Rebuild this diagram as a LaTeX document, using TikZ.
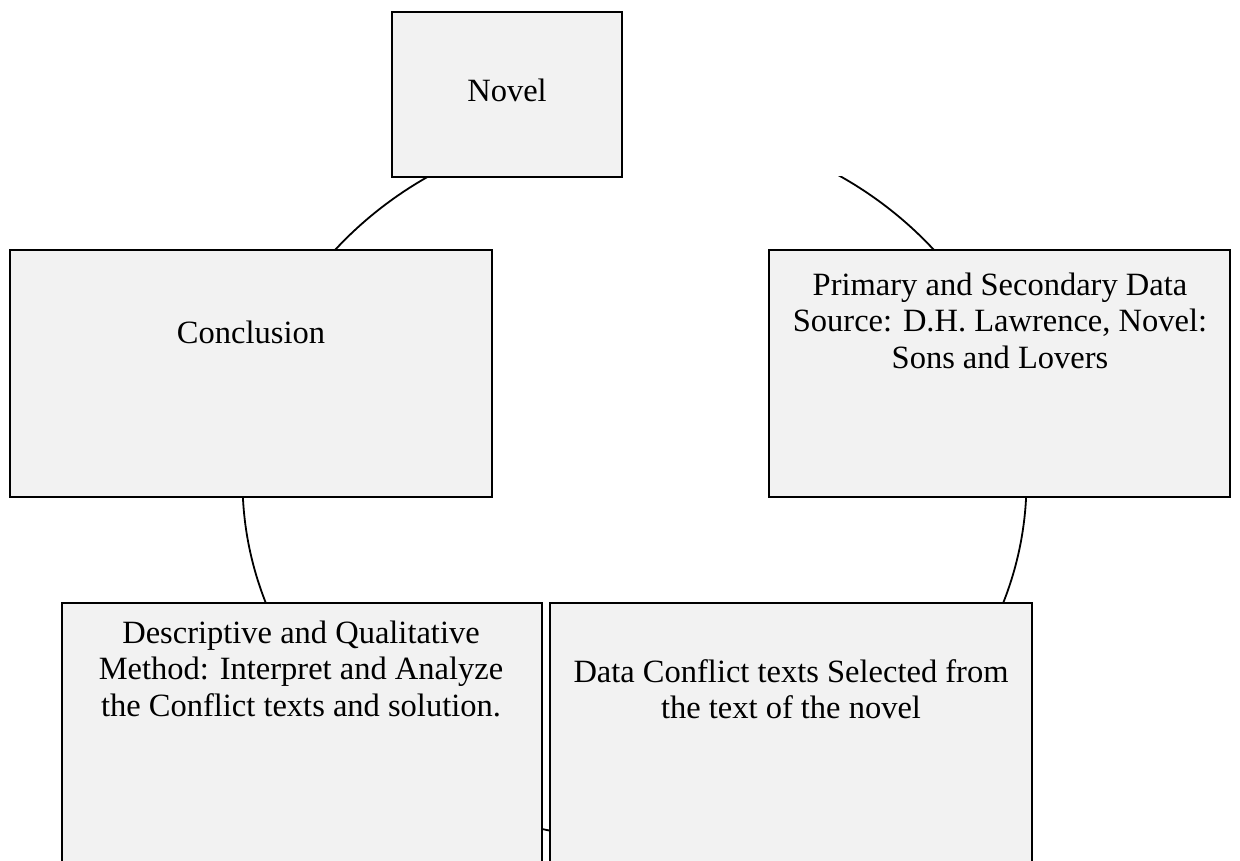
\documentclass[tikz,border=0pt]{standalone}
\usepackage{fontspec}
\setmainfont{Liberation Serif}
\definecolor{boxgray}{HTML}{F2F2F2}
\begin{document}
\begin{tikzpicture}[x=1pt,y=-1pt,
  box/.style={draw=black, line width=2pt, fill=boxgray, rectangle, inner sep=0pt},
  lbl/.style={font=\fontsize{32.5}{36.5}\selectfont, align=center, inner sep=0pt, anchor=base},
  ring/.style={draw=black, line width=1.8pt}]
\useasboundingbox (0,0) rectangle (1240,861);
\clip (0,0) rectangle (1240,861);
% cycle ring behind the boxes (only its part below the top box is shown)
\begin{scope}
  \clip (0,177) rectangle (1240,861);
  \draw[ring] (634.5,481) ellipse [x radius=392, y radius=358];
\end{scope}
% boxes
\node[box, minimum width=230pt, minimum height=165pt] (novel) at (507,94.5) {};
\node[box, minimum width=482pt, minimum height=247pt] (conc) at (251,373.5) {};
\node[box, minimum width=461pt, minimum height=247pt] (prim) at (999.5,373.5) {};
\node[box, minimum width=480pt, minimum height=300pt] (desc) at (302,753) {};
\node[box, minimum width=482pt, minimum height=300pt] (data) at (791,753) {};
% texts (base anchor = baseline of the last line)
\node[lbl] (tnovel) at (507,102) {Novel};
\node[lbl] (tconc) at (251,343) {Conclusion};
\node[lbl] (tprim) at (1000,368) {Primary and Secondary Data\\Source: D.H. Lawrence, Novel:\\Sons and Lovers};
\node[lbl] (tdesc) at (301,716) {Descriptive and Qualitative\\Method: Interpret and Analyze\\the Conflict texts and solution.};
\node[lbl] (tdata) at (791,718.5) {Data Conflict texts Selected from\\the text of the novel};
\end{tikzpicture}
\end{document}
